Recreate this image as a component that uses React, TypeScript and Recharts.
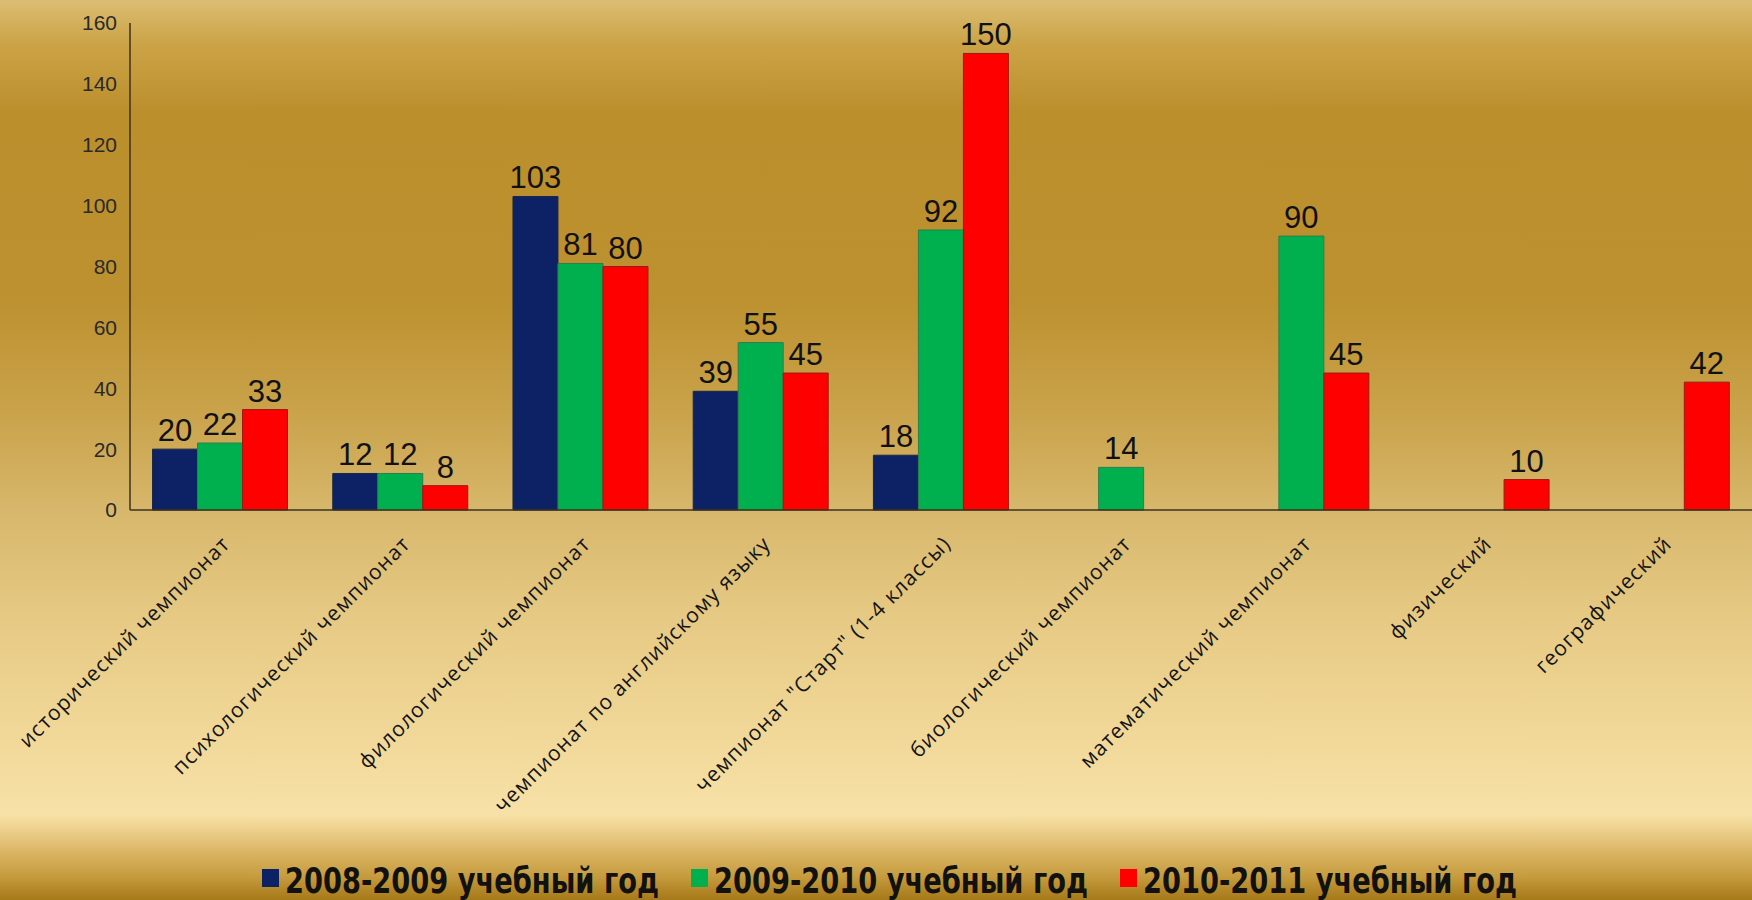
import React from "react";
import { BarChart, Bar, XAxis, YAxis, LabelList, Legend } from "recharts";

const categories = [
  "исторический чемпионат",
  "психологический чемпионат",
  "филологический чемпионат",
  "чемпионат по английскому языку",
  "чемпионат \"Старт\" (1-4 классы)",
  "биологический чемпионат",
  "математический чемпионат",
  "физический",
  "географический",
];
const year0809: (number | null)[] = [20, 12, 103, 39, 18, null, null, null, null];
const year0910: (number | null)[] = [22, 12, 81, 55, 92, 14, 90, null, null];
const year1011: (number | null)[] = [33, 8, 80, 45, 150, null, 45, 10, 42];
const seriesNames = ["2008-2009 учебный год", "2009-2010 учебный год", "2010-2011 учебный год"];
const seriesColors = ["#0c2265", "#00b04f", "#fe0000"];
const seriesStrokes = ["#1b2745", "#2f7d4c", "#9a1a10"];
const yTicks = [0, 20, 40, 60, 80, 100, 120, 140, 160];

const data = categories.map((name, i) => ({
  name,
  s0: year0809[i],
  s1: year0910[i],
  s2: year1011[i],
}));

const XTick = (props: any) => {
  const { x, y, payload } = props;
  return (
    <g transform={`translate(${x + 6},${y + 30})`}>
      <text
        transform="rotate(-45)"
        textAnchor="end"
        dy="0.35em"
        fill="#141414"
        fontSize={21}
        letterSpacing={1.1}
        fontFamily="'Open Sans', 'Liberation Sans', sans-serif"
      >
        {payload.value}
      </text>
    </g>
  );
};

const LegendContent = () => (
  <svg
    width={1752}
    height={900}
    style={{ position: "absolute", left: 0, top: 0, overflow: "visible" }}
  >
    {seriesNames.map((n, i) => {
      const x0 = 262 + i * 429;
      return (
        <g key={n}>
          <rect x={x0} y={869} width={17} height={18} fill={seriesColors[i]} />
          <text
            x={x0 + 23}
            y={893}
            textLength={374}
            lengthAdjust="spacingAndGlyphs"
            fontFamily="'DejaVu Sans Condensed', 'Liberation Sans', sans-serif"
            fontWeight={700}
            fontSize={35}
            fill="#111"
          >
            {n}
          </text>
        </g>
      );
    })}
  </svg>
);

export default function App() {
  return (
    <div
      style={{
        position: "fixed",
        left: 0,
        top: 0,
        width: 1752,
        height: 900,
        overflow: "hidden",
        background:
          "linear-gradient(to bottom, #dcbd72 0px, #cba346 45px, #bc8f2d 110px, #bd912f 300px, #c9a24a 410px, #d7b76b 510px, #e5c882 610px, #efd594 710px, #f7e1a7 815px, #f0d593 826px, #dcb768 850px, #c69c3e 876px, #a67919 900px)",
      }}
    >
      <BarChart
        width={1752}
        height={900}
        data={data}
        margin={{ top: 23, right: 0, left: 0, bottom: 0 }}
        barCategoryGap="12.5%"
        barGap={0}
      >
        <XAxis
          dataKey="name"
          interval={0}
          height={390}
          tickLine={false}
          tickSize={0}
          tickMargin={0}
          axisLine={{ stroke: "#3b3220", strokeWidth: 1.5 }}
          tick={<XTick />}
        />
        <YAxis
          domain={[0, 160]}
          ticks={yTicks}
          width={130}
          tickLine={false}
          tickSize={0}
          tickMargin={13}
          axisLine={{ stroke: "#3b3220", strokeWidth: 1.5 }}
          tick={{ fill: "#2a2a2a", fontSize: 21, fontFamily: "'Liberation Sans', sans-serif" }}
          interval={0}
        />
        <Legend
          content={<LegendContent />}
          wrapperStyle={{ left: 0, top: 0, width: 1752, height: 0 }}
        />
        {["s0", "s1", "s2"].map((k, i) => (
          <Bar
            key={k}
            dataKey={k}
            name={seriesNames[i]}
            fill={seriesColors[i]}
            stroke={seriesStrokes[i]}
            strokeWidth={1}
            isAnimationActive={false}
          >
            <LabelList
              dataKey={k}
              position="top"
              offset={8}
              fill="#111"
              fontSize={31}
              fontFamily="'Liberation Sans', sans-serif"
            />
          </Bar>
        ))}
      </BarChart>
    </div>
  );
}
